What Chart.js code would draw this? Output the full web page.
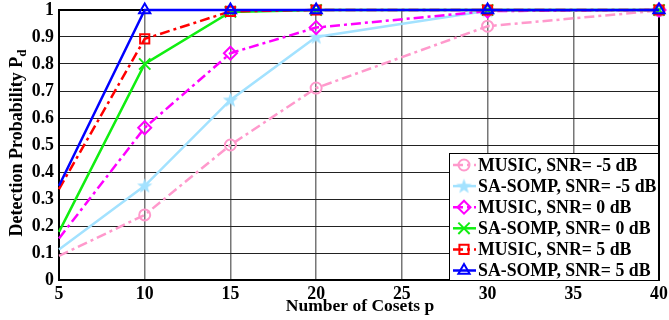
<!DOCTYPE html>
<html>
<head>
<meta charset="utf-8">
<script src="https://cdn.jsdelivr.net/npm/chart.js@4/dist/chart.umd.min.js"></script>
<style>
    body { margin: 0; background: #fff; }
</style>
</head>
<body>
<canvas id="pdChart" width="669" height="320"></canvas>
<script>
// Valori
const cosets = [5, 10, 15, 20, 30, 40];
const musicM5 = [0.089, 0.241, 0.50, 0.711, 0.94, 0.998];
const sompM5 = [0.113, 0.349, 0.667, 0.90, 0.997, 1.0];
const music0 = [0.154, 0.564, 0.84, 0.935, 0.996, 1.0];
const somp0 = [0.178, 0.80, 0.993, 1.0, 1.0, 1.0];
const music5 = [0.337, 0.893, 0.995, 1.0, 1.0, 1.0];
const somp5 = [0.349, 1.0, 1.0, 1.0, 1.0, 1.0];
const seriesLabels = [
    'MUSIC, SNR= -5 dB', 'SA-SOMP, SNR= -5 dB',
    'MUSIC, SNR= 0 dB', 'SA-SOMP, SNR= 0 dB',
    'MUSIC, SNR= 5 dB', 'SA-SOMP, SNR= 5 dB'
];

const FONT = '"Liberation Serif", "Times New Roman", serif';

// Stella a 5 punte piena (pentagramma)
function makeStar(color) {
    const c = document.createElement('canvas');
    c.width = 17; c.height = 17;
    const g = c.getContext('2d');
    g.fillStyle = color;
    g.beginPath();
    for (let i = 0; i < 10; i++) {
        const r = i % 2 === 0 ? 8 : 3.3;
        const a = -Math.PI / 2 + i * Math.PI / 5;
        const px = 8.5 + r * Math.cos(a), py = 9 + r * Math.sin(a);
        i === 0 ? g.moveTo(px, py) : g.lineTo(px, py);
    }
    g.closePath();
    g.fill();
    return c;
}

function toPoints(vals) {
    return cosets.map((x, i) => ({ x: x, y: vals[i] }));
}

function series(label, vals, color, dash, style, radius, order) {
    return {
        label: label,
        data: toPoints(vals),
        borderColor: color,
        borderWidth: 2.5,
        borderDash: dash,
        pointStyle: style,
        pointRadius: cosets.map((x, i) => i === 0 ? 0 : radius), // niente marker a x=5
        pointBorderColor: color,
        pointBackgroundColor: 'rgba(0,0,0,0)',
        pointBorderWidth: 2,
        tension: 0,
        clip: false,
        order: order
    };
}

const dashDot = [10, 4, 3, 4];

// Riquadro
const frame = {
    id: 'frame',
    beforeDatasetsDraw(chart) {
        const ctx = chart.ctx, a = chart.chartArea;
        ctx.save();
        ctx.strokeStyle = '#000';
        ctx.lineWidth = 2;
        ctx.strokeRect(a.left, a.top, a.right - a.left, a.bottom - a.top);
        ctx.restore();
    }
};

// Legenda in basso a destra
const legendBox = {
    id: 'legendBox',
    afterDatasetsDraw(chart) {
        const ctx = chart.ctx, a = chart.chartArea;
        const w = 210, h = 128;
        const x0 = a.right - w, y0 = a.bottom - h + 1;
        ctx.save();
        ctx.fillStyle = '#fff';
        ctx.fillRect(x0, y0, w, h);
        ctx.strokeStyle = '#000';
        ctx.lineWidth = 1;
        ctx.strokeRect(x0 + 0.5, y0 + 0.5, w - 1, h - 1);
        chart.data.datasets.forEach((ds, i) => {
            const cy = y0 + 12 + i * 21.1;
            ctx.setLineDash(ds.borderDash || []);
            ctx.strokeStyle = ds.borderColor;
            ctx.lineWidth = ds.borderWidth;
            ctx.beginPath();
            ctx.moveTo(x0 + 4, cy);
            ctx.lineTo(x0 + 27, cy);
            ctx.stroke();
            ctx.setLineDash([]);
            ctx.fillStyle = ds.pointBackgroundColor;
            ctx.strokeStyle = ds.pointBorderColor;
            ctx.lineWidth = ds.pointBorderWidth;
            Chart.helpers.drawPoint(ctx, {
                pointStyle: ds.pointStyle,
                radius: ds.pointRadius[1],
                borderWidth: ds.pointBorderWidth,
                rotation: 0
            }, x0 + 15, cy);
            ctx.fillStyle = '#000';
            ctx.font = 'bold 17.8px ' + FONT;
            ctx.textAlign = 'left';
            ctx.textBaseline = 'middle';
            ctx.fillText(ds.label, x0 + 29, cy + 1);
        });
        ctx.restore();
    }
};

// Titoli degli assi (con pedice)
const axisTitles = {
    id: 'axisTitles',
    afterDraw(chart) {
        const ctx = chart.ctx, a = chart.chartArea;
        ctx.save();
        ctx.fillStyle = '#000';
        ctx.font = 'bold 17.5px ' + FONT;
        ctx.textAlign = 'center';
        ctx.textBaseline = 'alphabetic';
        ctx.fillText('Number of Cosets p', (a.left + a.right) / 2 + 1, 311);

        ctx.translate(22, (a.top + a.bottom) / 2 - 2);
        ctx.rotate(-Math.PI / 2);
        const main = 'Detection Probability P';
        ctx.font = 'bold 18px ' + FONT;
        const wMain = ctx.measureText(main).width;
        ctx.font = 'bold 13px ' + FONT;
        const wSub = ctx.measureText('d').width;
        const start = -(wMain + wSub) / 2;
        ctx.textAlign = 'left';
        ctx.font = 'bold 18px ' + FONT;
        ctx.fillText(main, start, 0);
        ctx.font = 'bold 13px ' + FONT;
        ctx.fillText('d', start + wMain, 4);
        ctx.restore();
    }
};

const ctx = document.getElementById('pdChart').getContext('2d');
const pdChart = new Chart(ctx, {
    type: 'line',
    data: {
        datasets: [
            series(seriesLabels[0], musicM5, '#ff99cc', dashDot, 'circle', 5.5, 5),
            series(seriesLabels[1], sompM5, '#a3e2ff', [], makeStar('#a3e2ff'), 6, 4),
            series(seriesLabels[2], music0, '#ff00ff', dashDot, 'rectRot', 6.5, 3),
            series(seriesLabels[3], somp0, '#11ee11', [], 'crossRot', 8, 2),
            series(seriesLabels[4], music5, '#ff0000', dashDot, 'rect', 6.5, 1),
            series(seriesLabels[5], somp5, '#0000ff', [], 'triangle', 6.5, 0)
        ]
    },
    options: {
        responsive: false,
        devicePixelRatio: 1,
        animation: false,
        layout: { padding: { top: 8, right: 8, left: 0, bottom: 0 } },
        plugins: {
            legend: { display: false },
            tooltip: { enabled: false }
        },
        scales: {
            x: {
                type: 'linear',
                min: 5,
                max: 40,
                border: { display: false },
                grid: { color: '#777', lineWidth: 1.5, drawTicks: false },
                ticks: {
                    stepSize: 5,
                    padding: 4,
                    color: '#000',
                    font: { family: FONT, size: 17.8, weight: 'bold' },
                    maxRotation: 0
                },
                afterFit(s) {
                    s.height = 40;
                    s.paddingLeft = 0; s.paddingRight = 0;
                }
            },
            y: {
                min: 0,
                max: 1,
                border: { display: false },
                grid: { color: '#222', lineWidth: 1, drawTicks: false },
                ticks: {
                    stepSize: 0.1,
                    padding: 5,
                    color: '#000',
                    font: { family: FONT, size: 17.8, weight: 'bold' },
                    callback: v => String(+v.toFixed(1))
                },
                afterFit(s) {
                    s.width = 59;
                    s.paddingTop = 0; s.paddingBottom = 0;
                }
            }
        }
    },
    plugins: [frame, legendBox, axisTitles]
});
</script>
</body>
</html>
